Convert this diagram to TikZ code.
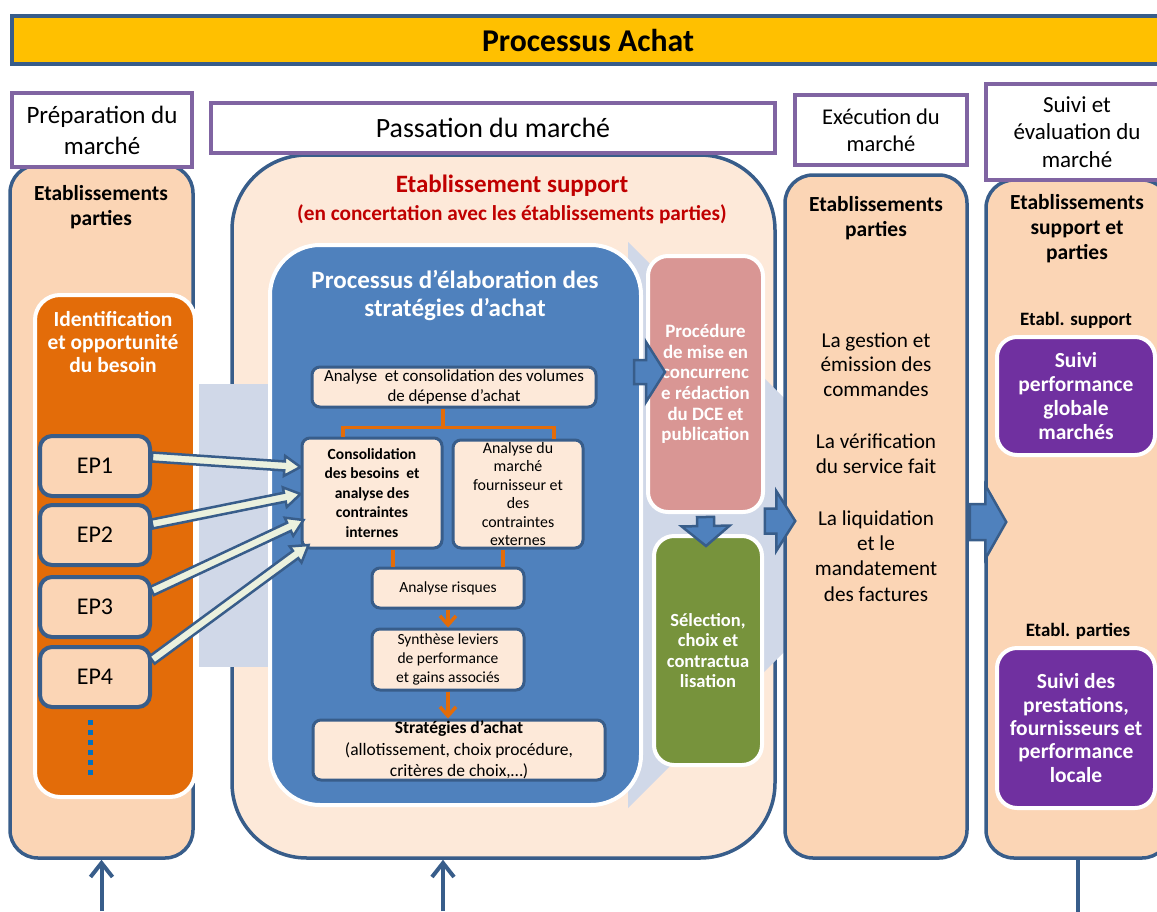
\documentclass[tikz,border=0pt]{standalone}
\usepackage{fontspec}
\setmainfont{Carlito}
\usetikzlibrary{calc,arrows.meta}

\definecolor{gold}{HTML}{FFC000}
\definecolor{bordblue}{HTML}{385D8A}
\definecolor{hdrpurple}{HTML}{8064A2}
\definecolor{peach}{HTML}{FBD5B5}
\definecolor{lightpeach}{HTML}{FDE9D9}
\definecolor{orangebox}{HTML}{E36C09}
\definecolor{elabblue}{HTML}{4F81BD}
\definecolor{chevgray}{HTML}{D0D8E8}
\definecolor{procred}{HTML}{D99694}
\definecolor{selgreen}{HTML}{77933C}
\definecolor{suivipurple}{HTML}{7030A0}
\definecolor{eparrowfill}{HTML}{EBF1DE}
\definecolor{supportred}{HTML}{C00000}
\definecolor{dotblue}{HTML}{0070C0}

\newcommand\fsz[2]{\fontsize{#1}{#2}\selectfont}
% block arrow: style, start, tip, half body, half head, head length
\newcommand\blockarrow[6]{%
  \coordinate (ba-s) at (#2);
  \coordinate (ba-t) at (#3);
  \coordinate (ba-h) at ($(ba-t)!#6pt!(ba-s)$);
  \draw[#1] ($(ba-s)!#4pt!90:(ba-t)$) -- ($(ba-h)!#4pt!90:(ba-t)$)
    -- ($(ba-h)!#5pt!90:(ba-t)$) -- (ba-t) -- ($(ba-h)!#5pt!-90:(ba-t)$)
    -- ($(ba-h)!#4pt!-90:(ba-t)$) -- ($(ba-s)!#4pt!-90:(ba-t)$) -- cycle;
}

\begin{document}
\begin{tikzpicture}[x=1pt,y=-1pt,
  header/.style={draw=hdrpurple, line width=3.5pt, fill=white, inner sep=0pt, align=center},
  column/.style={draw=bordblue, line width=3.5pt, fill=peach, rounded corners=28pt, inner sep=0pt},
  colhead/.style={align=center, font=\fsz{21.5}{25}\bfseries},
  whitebox/.style={draw=white, line width=4pt, rounded corners=#1, inner sep=0pt},
  whitetext/.style={text=white, align=center},
  stepbox/.style={draw=bordblue, line width=3pt, fill=lightpeach, rounded corners=8pt,
    inner sep=0pt, align=center, font=\fsz{15.5}{19}},
  epbox/.style={draw=bordblue, line width=4pt, fill=peach, rounded corners=12pt,
    minimum width=110pt, minimum height=60pt, inner sep=0pt, font=\fsz{24}{28}},
  orangeline/.style={draw=orangebox, line width=3.5pt},
  orangearrow/.style={orangeline, -{Straight Barb[length=9pt,width=16pt]}},
  eparrow/.style={fill=eparrowfill, draw=bordblue, line width=2.5pt, line join=miter},
  bigarrow/.style={fill=elabblue, draw=bordblue, line width=2.5pt, line join=miter},
  inarrow/.style={draw=bordblue, line width=4pt, -{Straight Barb[length=14pt,width=22pt]}},
  bodytext/.style={align=center, font=\fsz{21.2}{24.5}},
  subhead/.style={font=\fsz{18.9}{20}\bfseries}]

\useasboundingbox (0,0) rectangle (1157,911);
\clip (0,0) rectangle (1157,911);

% columns
\node[column, minimum width=183pt, minimum height=693pt] (prep) at (101.5,511.5) {};
\node[column, fill=lightpeach, rounded corners=75pt, minimum width=543pt, minimum height=703pt] (pass) at (503.5,506.5) {};

% grey chevrons
\fill[chevgray] (199,384) rectangle (268,667);
\fill[chevgray] (628,242) -- (911,525) -- (628,808) -- cycle;

% preparation
\node[colhead] (prephead) at (101,207) {Etablissements\\parties};
\node[whitebox=25pt, fill=orangebox, minimum width=160pt, minimum height=502pt] (ident) at (115,546) {};
\node[whitetext, font=\fsz{21.5}{23}\bfseries] (identtext) at (113,342) {Identification\\et opportunité\\du besoin};
\foreach \i/\y in {1/466,2/535,3/607,4/677}
  \node[epbox] (ep\i) at (95,\y) {EP\i};
\draw[dotblue, line width=5pt, dash pattern=on 5pt off 5pt] ($(ep4.south)+(-5,11)$) -- ++(0,59);

% passation
\node[font=\fsz{25}{28}\bfseries, text=supportred] (support) at (512,186) {Etablissement support};
\node[font=\fsz{21.3}{24}\bfseries, text=supportred] (concert) at (512,214) {(en concertation avec les établissements parties)};

\node[whitebox=50pt, fill=elabblue, minimum width=371pt, minimum height=560pt] (elab) at (455.5,525) {};
\node[whitetext, font=\fsz{25}{28}\bfseries] (elabtitle) at (455,296) {Processus d’élaboration des\\stratégies d’achat};

\node[stepbox, minimum width=284pt, minimum height=40pt, font=\fsz{16.9}{19.5}] (vol) at (454,387) {Analyse\ \ et consolidation des volumes\\de dépense d’achat};
\node[stepbox, minimum width=140pt, minimum height=110pt, font=\fsz{15.5}{19.5}\bfseries] (cons) at (372,493) {Consolidation\\des besoins\ \ et\\analyse des\\contraintes\\internes};
\node[stepbox, minimum width=130pt, minimum height=108pt, font=\fsz{15.9}{18.5}] (mkt) at (518,494) {Analyse du\\marché\\fournisseur et\\des\\contraintes\\externes};
\node[stepbox, minimum width=152pt, minimum height=40pt] (risk) at (448,588) {Analyse risques};
\node[stepbox, minimum width=152pt, minimum height=61pt] (synth) at (448,659.5) {Synthèse leviers\\de performance\\et gains associés};
\node[stepbox, minimum width=292pt, minimum height=60pt, font=\fsz{17.5}{21.3}] (strat) at (459,750) {\textbf{Stratégies d’achat}\\(allotissement, choix procédure,\\critères de choix,…)};

\draw[orangeline] ($(vol.south)+(-11,0)$) -- ++(0,19) coordinate (split);
\draw[orangeline] ($(cons.north)+(-29,0)$) |- (split) -| ($(mkt.north)+(36,0)$);
\draw[orangeline] ($(cons.south)+(21,0)$) -- ($(risk.north)+(-55,0)$);
\draw[orangeline] ($(mkt.south)+(-15,0)$) -- ($(risk.north)+(55,0)$);
\draw[orangearrow] (risk.south) -- (synth.north);
\draw[orangearrow] (synth.south) -- (synth.south |- strat.north);

\node[whitebox=20pt, fill=procred, minimum width=115pt, minimum height=256pt, whitetext, font=\fsz{18.9}{20.6}\bfseries] (proc) at (705.5,384) {Procédure\\de mise en\\concurrenc\\e rédaction\\du DCE et\\publication};
\node[whitebox=20pt, fill=selgreen, minimum width=108pt, minimum height=229pt, whitetext, font=\fsz{18.5}{20.4}\bfseries] (sel) at (708,650.5) {Sélection,\\choix et\\contractua\\lisation};

% execution
\node[column, minimum width=182pt, minimum height=683pt] (exec) at (876,516.5) {};
\node[colhead] (exechead) at (876,218) {Etablissements\\parties};
\node[bodytext] (cmd) at (876,364.5) {La gestion et\\émission des\\commandes};
\node[bodytext] (verif) at (876,453.5) {La vérification\\du service fait};
\node[bodytext, font=\fsz{21.2}{25.3}] (liq) at (876,556) {La liquidation\\et le\\mandatement\\des factures};

% suivi
\node[column, minimum width=184pt, minimum height=678pt] (suivi) at (1078,519) {};
\node[colhead] (suivihead) at (1077,229) {Etablissements\\support et\\parties};
\node[subhead] (etsup) at (1076,320) {Etabl. support};
\node[whitebox=20pt, fill=suivipurple, minimum width=158pt, minimum height=118pt, whitetext, font=\fsz{21.5}{23.7}\bfseries] (glob) at (1076,396) {Suivi\\performance\\globale\\marchés};
\node[subhead] (etpart) at (1078,631) {Etabl. parties};
\node[whitebox=20pt, fill=suivipurple, minimum width=158pt, minimum height=160pt, whitetext, font=\fsz{21.5}{23.3}\bfseries] (loc) at (1076,728) {Suivi des\\prestations,\\fournisseurs et\\performance\\locale};

% headers
\node[draw=bordblue, line width=4pt, fill=gold, minimum width=1152pt, minimum height=48pt, font=\fsz{31.7}{36}\bfseries] (title) at (588,40) {Processus Achat};
\node[header, minimum width=180pt, minimum height=74pt, font=\fsz{25}{31}] (hprep) at (102,130) {Préparation du\\marché};
\node[header, minimum width=564pt, minimum height=50pt, font=\fsz{27.9}{30}] (hpass) at (493,128) {Passation du marché};
\node[header, minimum width=172pt, minimum height=70pt, font=\fsz{22.5}{27}] (hexec) at (881,130) {Exécution du\\marché};
\node[header, minimum width=182pt, minimum height=96pt, font=\fsz{23}{27.5}] (hsuivi) at (1077,132) {Suivi et\\évaluation du\\marché};

% arrows
\blockarrow{eparrow}{$(ep1.east)+(0,-9)$}{$(cons.west)+(0,-26)$}{4.5}{10}{16}
\blockarrow{eparrow}{$(ep2.east)+(0,-11)$}{$(cons.west)+(0,1)$}{4.5}{10}{16}
\blockarrow{eparrow}{$(ep3.east)+(0,-16)$}{$(cons.west)+(3,27)$}{4.5}{10}{16}
\blockarrow{eparrow}{$(ep4.east)+(0,-17)$}{$(cons.west)+(8,52)$}{4.5}{10}{16}

\blockarrow{bigarrow}{$(elab.east)+(-9,-153)$}{$(proc.west)+(19,-12)$}{12}{30}{19}
\blockarrow{bigarrow}{$(proc.south)+(0,3)$}{$(sel.north)+(-2,12)$}{8.5}{24}{20}
\blockarrow{bigarrow}{$(pass.east)+(-12,14.5)$}{$(exec.west)+(12,4.5)$}{12.5}{30}{19}
\blockarrow{bigarrow}{$(exec.east)+(1,5.5)$}{$(suivi.west)+(22,3)$}{18}{37}{21}

\coordinate (prepin) at (101.5,911);
\draw[inarrow] (prepin) -- (prep.south);
\coordinate (passin) at (443,911);
\draw[inarrow] (passin) -- (passin |- pass.south);
\draw[draw=bordblue, line width=4pt] (suivi.south) -- ++(0,53) coordinate (suiviout);
\end{tikzpicture}
\end{document}
